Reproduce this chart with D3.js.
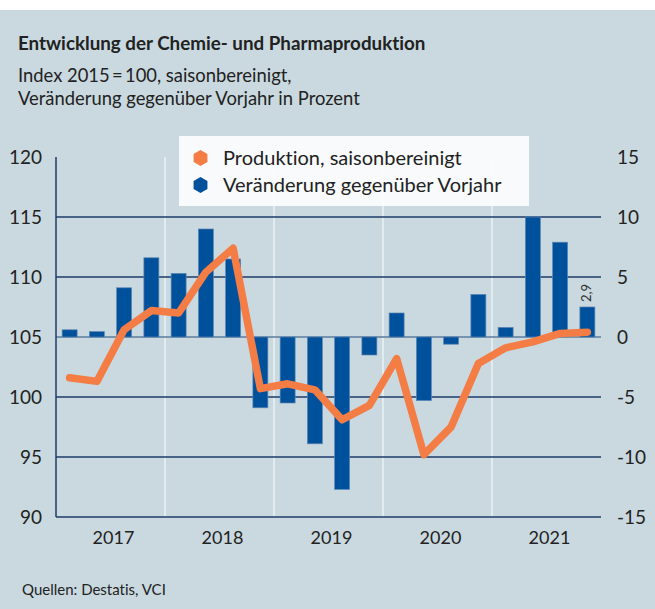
<!DOCTYPE html>
<html>
<head>
<meta charset="utf-8">
<script src="https://cdn.jsdelivr.net/npm/d3@7"></script>
<style>
  body { margin: 0; background: #fff; }
  text { font-family: Lato, "Noto Sans", sans-serif; fill: #222; font-variant-ligatures: none; }
</style>
</head>
<body>
<script>
// quarterly data 2017 Q1 .. 2021 Q4
var quarters = ["2017Q1","2017Q2","2017Q3","2017Q4","2018Q1","2018Q2","2018Q3","2018Q4",
                "2019Q1","2019Q2","2019Q3","2019Q4","2020Q1","2020Q2","2020Q3","2020Q4",
                "2021Q1","2021Q2","2021Q3","2021Q4"];
var years = ["2017","2018","2019","2020","2021"];
var production = [101.6, 101.3, 105.6, 107.2, 107.0, 110.4, 112.4, 100.7,
                  101.1, 100.6, 98.1, 99.3, 103.2, 95.2, 97.5, 102.8,
                  104.1, 104.6, 105.3, 105.4];
var change = [0.6, 0.45, 4.1, 6.6, 5.3, 9.0, 6.5, -5.9,
              -5.5, -8.9, -12.7, -1.5, 2.0, -5.3, -0.6, 3.55,
              0.8, 10.0, 7.9, 2.5];
var leftTicks = [90, 95, 100, 105, 110, 115, 120];
var rightTicks = [-15, -10, -5, 0, 5, 10, 15];
var lastLabel = "2,9";

var W = 655, H = 609;
var pLeft = 56, pRight = 601, pTop = 157, pBottom = 517;

var svg = d3.select("body").append("svg")
    .attr("width", W).attr("height", H);

svg.append("rect").attr("x", 0).attr("y", 10).attr("width", W).attr("height", H - 10)
    .attr("fill", "#c9d9df");

// titles
svg.append("text").attr("x", 18).attr("y", 50)
    .style("font-size", "18.8px").style("font-weight", "bold")
    .text("Entwicklung der Chemie- und Pharmaproduktion");
svg.append("text").attr("x", 18).attr("y", 82)
    .style("font-size", "18.4px")
    .text("Index 2015\u2009=\u2009100, saisonbereinigt,");
svg.append("text").attr("x", 18).attr("y", 105)
    .style("font-size", "18.4px")
    .text("Veränderung gegenüber Vorjahr in Prozent");

var x = d3.scaleBand().domain(quarters).range([pLeft, pRight])
    .paddingInner(0.45).paddingOuter(0.225);
var yL = d3.scaleLinear().domain([90, 120]).range([pBottom, pTop]);
var yR = d3.scaleLinear().domain([-15, 15]).range([pBottom, pTop]);
var gap = x.step() - x.bandwidth();

// year separators
svg.selectAll(".sep").data(years.slice(1)).enter().append("line")
    .attr("x1", function(d, i) { return x(quarters[(i + 1) * 4]) - gap / 2; })
    .attr("x2", function(d, i) { return x(quarters[(i + 1) * 4]) - gap / 2; })
    .attr("y1", pTop).attr("y2", pBottom)
    .attr("stroke", "#f4f8fa").attr("stroke-width", 1.2);

// gridlines
svg.selectAll(".grid").data(leftTicks.filter(function(t) { return t < 120; }))
    .enter().append("line")
    .attr("x1", pLeft).attr("x2", pRight)
    .attr("y1", function(d) { return yL(d); })
    .attr("y2", function(d) { return yL(d); })
    .attr("stroke", function(d) { return d == 105 ? "#5b7b9c" : "#1d3b6a"; })
    .attr("stroke-width", 1.5);
svg.append("line").attr("x1", pLeft).attr("x2", pLeft).attr("y1", pTop).attr("y2", pBottom)
    .attr("stroke", "#1d3b6a").attr("stroke-width", 1.5);

// bars
svg.selectAll(".bar").data(change).enter().append("rect")
    .attr("x", function(d, i) { return x(quarters[i]); })
    .attr("width", x.bandwidth())
    .attr("y", function(d) { return yR(Math.max(0, d)); })
    .attr("height", function(d) { return Math.abs(yR(d) - yR(0)); })
    .attr("fill", "#00519b")
    .attr("stroke", "#5c87b6").attr("stroke-width", 0.7);

svg.append("text")
    .attr("transform", "translate(" + (x(quarters[19]) + x.bandwidth() / 2 + 4) + "," +
          (yR(change[19]) - 5) + ") rotate(-90)")
    .style("font-size", "13px").style("fill", "#333")
    .text(lastLabel);

// production line
var line = d3.line()
    .x(function(d, i) { return x(quarters[i]) + x.bandwidth() / 2; })
    .y(function(d) { return yL(d); });
svg.append("path").datum(production)
    .attr("d", line)
    .attr("fill", "none").attr("stroke", "#f47c45")
    .attr("stroke-width", 7.5)
    .attr("stroke-linejoin", "round").attr("stroke-linecap", "round");

// axis labels
svg.selectAll(".lt").data(leftTicks).enter().append("text")
    .attr("x", 42).attr("y", function(d) { return yL(d) + 6.5; })
    .attr("text-anchor", "end").style("font-size", "19px")
    .text(function(d) { return d; });
svg.selectAll(".rt").data(rightTicks).enter().append("text")
    .attr("x", 617).attr("y", function(d) { return yR(d) + 6.5; })
    .style("font-size", "19px")
    .text(function(d) { return d; });
svg.selectAll(".yr").data(years).enter().append("text")
    .attr("x", function(d, i) { return x(quarters[i * 4]) - gap / 2 + 2 * x.step() + 3; })
    .attr("y", 544).attr("text-anchor", "middle").style("font-size", "18px")
    .text(function(d) { return d; });

// legend
var lg = svg.append("g");
lg.append("rect").attr("x", 179).attr("y", 136).attr("width", 350).attr("height", 70)
    .attr("fill", "#fbfcfc").attr("fill-opacity", 0.95);
var hex = function(cx, cy, r) {
    var p = d3.path();
    for (var k = 0; k < 6; k++) {
        var a = Math.PI / 3 * k - Math.PI / 2;
        if (k == 0) p.moveTo(cx + r * Math.cos(a), cy + r * Math.sin(a));
        else p.lineTo(cx + r * Math.cos(a), cy + r * Math.sin(a));
    }
    p.closePath();
    return p.toString();
};
var legendItems = [["Produktion, saisonbereinigt", "#f47c45"], ["Veränderung gegenüber Vorjahr", "#00519b"]];
legendItems.forEach(function(it, i) {
    var cy = 158 + i * 27;
    lg.append("path").attr("d", hex(200.5, cy, 8)).attr("fill", it[1]);
    lg.append("text").attr("x", 223).attr("y", cy + 7).style("font-size", "20px").text(it[0]);
});

svg.append("text").attr("x", 22).attr("y", 595).style("font-size", "15px")
    .text("Quellen: Destatis, VCI");
</script>
</body>
</html>
